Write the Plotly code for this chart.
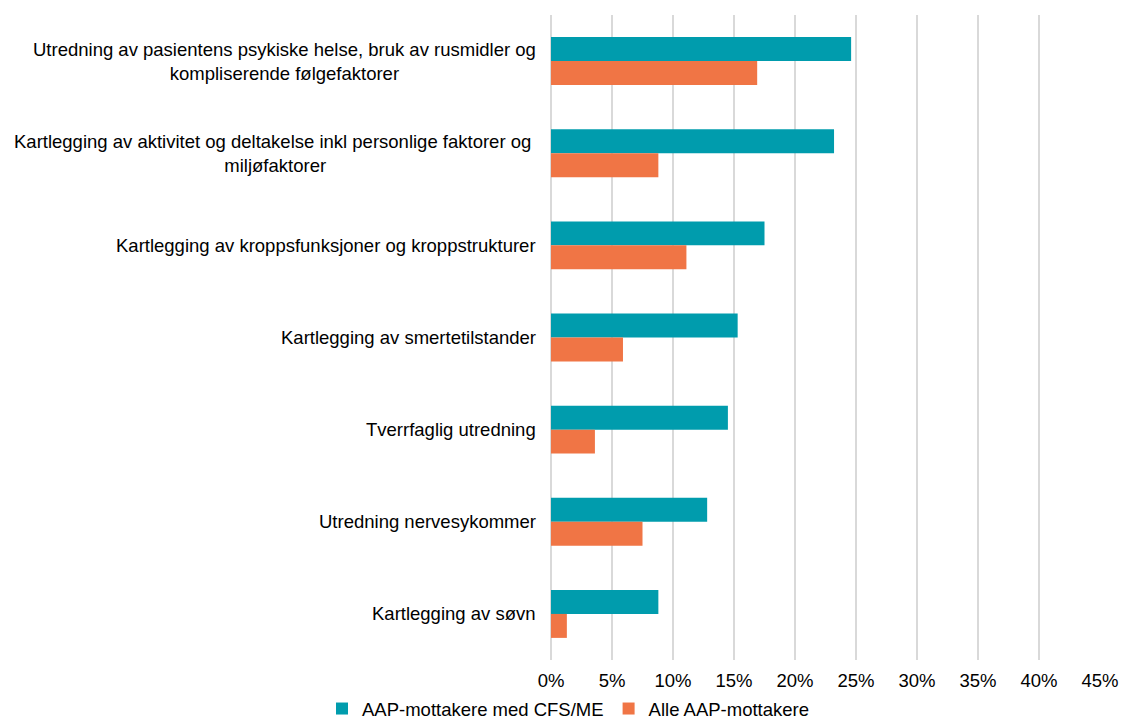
import plotly.graph_objects as go

categories = [
    "Utredning av pasientens psykiske helse, bruk av rusmidler og<br>kompliserende følgefaktorer",
    "Kartlegging av aktivitet og deltakelse inkl personlige faktorer og <br>miljøfaktorer",
    "Kartlegging av kroppsfunksjoner og kroppstrukturer",
    "Kartlegging av smertetilstander",
    "Tverrfaglig utredning",
    "Utredning nervesykommer",
    "Kartlegging av søvn",
]
cfs_me = [24.6, 23.2, 17.5, 15.3, 14.5, 12.8, 8.8]
alle_aap = [16.9, 8.8, 11.1, 5.9, 3.6, 7.5, 1.3]
series_names = ["AAP-mottakere med CFS/ME", "Alle AAP-mottakere"]
tick_vals = [0, 5, 10, 15, 20, 25, 30, 35, 40, 45]
tick_text = [f"{v}%" for v in tick_vals]

TEAL = "#009CAD"
ORANGE = "#F07545"
FONT = "Liberation Sans, Arial, sans-serif"
FS = 18.5

fig = go.Figure()
fig.add_trace(go.Bar(
    y=categories, x=cfs_me, name=series_names[0], orientation="h",
    marker=dict(color=TEAL, line=dict(width=0)), legendrank=1,
))
fig.add_trace(go.Bar(
    y=categories, x=alle_aap, name=series_names[1], orientation="h",
    marker=dict(color=ORANGE, line=dict(width=0)), legendrank=2,
))

# category labels as centred multi-line annotations left of the axis
for cat in categories:
    fig.add_annotation(
        x=0, xref="paper", y=cat, yref="y", text=cat, showarrow=False,
        xanchor="right", yanchor="middle", align="center", xshift=-13,
        font=dict(family=FONT, size=FS, color="#000000"),
    )

fig.update_layout(
    width=1121, height=719,
    margin=dict(l=551, r=21, t=15, b=59),
    paper_bgcolor="white", plot_bgcolor="white",
    barmode="group", bargap=0.48, bargroupgap=0,
    font=dict(family=FONT, size=FS, color="#000000"),
    showlegend=True,
    legend=dict(
        orientation="h", xref="container", x=322 / 1121, xanchor="left",
        yref="container", y=10 / 719, yanchor="middle",
        bgcolor="rgba(0,0,0,0)",
        font=dict(family=FONT, size=FS, color="#000000"),
        itemwidth=30, traceorder="normal",
    ),
    xaxis=dict(
        range=[0, 45], tickvals=tick_vals, ticktext=tick_text,
        showgrid=True, gridcolor="#D9D9D9", gridwidth=1.5,
        zeroline=True, zerolinecolor="#D9D9D9", zerolinewidth=2,
        showline=False, ticks="", ticklabelstandoff=7, automargin=False,
        tickfont=dict(family=FONT, size=FS, color="#000000"),
    ),
    yaxis=dict(
        type="category", autorange="reversed", showticklabels=False,
        showgrid=False, zeroline=False, showline=False, ticks="",
        automargin=False,
    ),
)

fig.write_html("out.html")
